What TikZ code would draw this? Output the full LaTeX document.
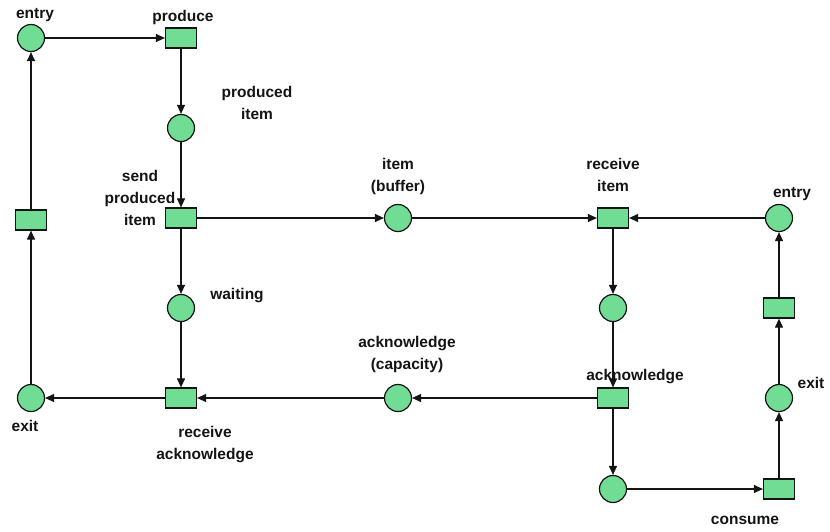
\documentclass[tikz,border=0pt]{standalone}
\usepackage{fontspec}
\setmainfont{Liberation Sans}
\usetikzlibrary{arrows.meta}
\definecolor{placefill}{RGB}{112,220,148}
\definecolor{ink}{RGB}{20,20,20}
\begin{document}
\begin{tikzpicture}[x=1pt,y=-1pt,
  place/.style={circle,draw=ink,fill=placefill,line width=1.2pt,minimum size=27pt,inner sep=0pt},
  trans/.style={rectangle,draw=ink,fill=placefill,line width=1.2pt,minimum width=31pt,minimum height=20pt,inner sep=0pt},
  lbl/.style={anchor=base,align=center,inner sep=0pt,text=ink,font=\fontsize{15.5}{22}\selectfont\bfseries},
  arc/.style={draw=ink,line width=1.1pt,-{Triangle[length=9pt,width=8pt]}}]
\useasboundingbox (0,0) rectangle (830,531);

% producer
\node[place] (pentry) at (31,38) {};
\node[trans] (produce) at (181,38) {};
\node[place] (pitem) at (181,128) {};
\node[trans] (send) at (181,218) {};
\node[place] (waiting) at (181,308) {};
\node[trans] (recack) at (181,398) {};
\node[place] (pexit) at (31,398) {};
\node[trans] (ptrans) at (31,220) {};

% channel
\node[place] (buffer) at (398,218) {};
\node[place] (capacity) at (398,398) {};

% consumer
\node[trans] (recitem) at (613,218) {};
\node[place] (cmid) at (613,308) {};
\node[trans] (ack) at (613,398) {};
\node[place] (cbot) at (613,489) {};
\node[trans] (consume) at (779,489) {};
\node[place] (cexit) at (779,398) {};
\node[trans] (ctrans) at (779,308) {};
\node[place] (centry) at (779,218) {};

% labels (base = baseline of the last line)
\node[lbl] (l1) at (35,18) {entry};
\node[lbl] (l2) at (183,21.5) {produce};
\node[lbl] (l3) at (257,119.5) {produced\\item};
\node[lbl] (l4) at (140,225) {send\\produced\\item};
\node[lbl] (l5) at (398,191) {item\\(buffer)};
\node[lbl] (l6) at (613,191) {receive\\item};
\node[lbl] (l7) at (792,197) {entry};
\node[lbl] (l8) at (237,299) {waiting};
\node[lbl] (l9) at (407,369) {acknowledge\\(capacity)};
\node[lbl] (l10) at (635,380) {acknowledge};
\node[lbl] (l11) at (811,388) {exit};
\node[lbl] (l12) at (25,431) {exit};
\node[lbl] (l13) at (205,459) {receive\\acknowledge};
\node[lbl] (l14) at (745,524) {consume};

% arcs
\draw[arc] (pentry) -- (produce);
\draw[arc] (produce) -- (pitem);
\draw[arc] (pitem) -- (send);
\draw[arc] (send) -- (buffer);
\draw[arc] (buffer) -- (recitem);
\draw[arc] (centry) -- (recitem);
\draw[arc] (recitem) -- (cmid);
\draw[arc] (cmid) -- (ack);
\draw[arc] (ack) -- (capacity);
\draw[arc] (capacity) -- (recack);
\draw[arc] (send) -- (waiting);
\draw[arc] (waiting) -- (recack);
\draw[arc] (recack) -- (pexit);
\draw[arc] (pexit) -- (ptrans);
\draw[arc] (ptrans) -- (pentry);
\draw[arc] (ack) -- (cbot);
\draw[arc] (cbot) -- (consume);
\draw[arc] (consume) -- (cexit);
\draw[arc] (cexit) -- (ctrans);
\draw[arc] (ctrans) -- (centry);
\end{tikzpicture}
\end{document}
